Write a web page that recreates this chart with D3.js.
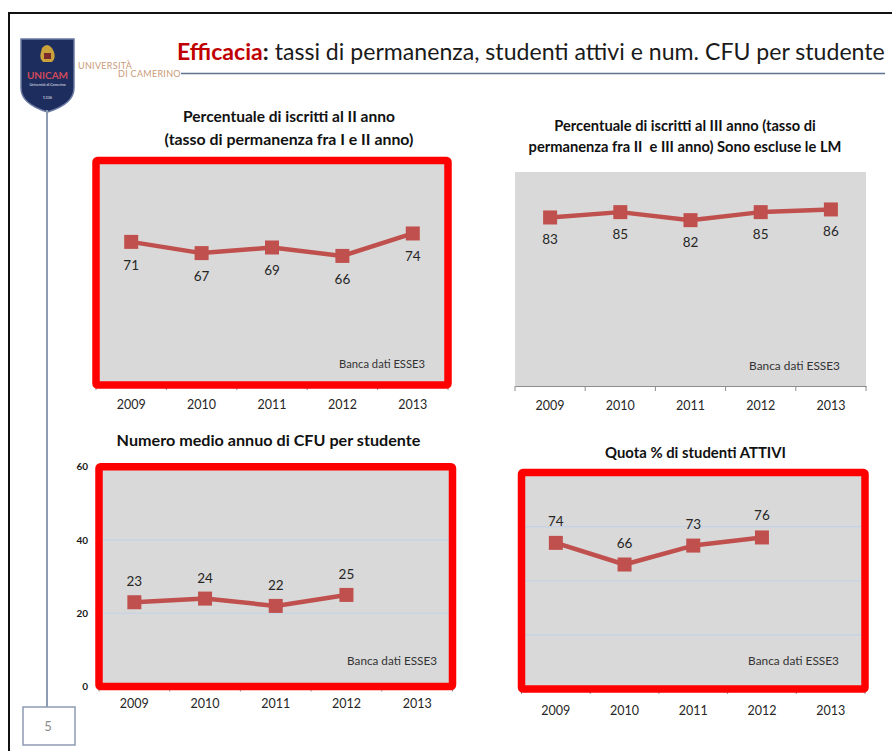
<!DOCTYPE html>
<html>
<head>
<meta charset="utf-8">
<script src="https://cdn.jsdelivr.net/npm/d3@7"></script>
<style>
  html, body { margin: 0; padding: 0; background: #fff; }
  svg { display: block; }
  text { font-family: Lato, "Open Sans", sans-serif; }
</style>
</head>
<body>
<svg id="slide" width="892" height="751"></svg>
<script>
// ---- data ----
const years = ["2009", "2010", "2011", "2012", "2013"];
const secondYearRate = [71, 67, 69, 66, 74];      // % iscritti al II anno
const thirdYearRate = [83, 85, 82, 85, 86];       // % iscritti al III anno
const cfuPerStudent = [23, 24, 22, 25, null];     // CFU medi annui
const activeShare = [74, 66, 73, 76, null];       // % studenti attivi
const cfuTicks = [0, 20, 40, 60];
const sourceNote = "Banca dati ESSE3";

const svg = d3.select("#slide");
const LINE = "#c0504d", FRAME = "#ff0000", PLOT_BG = "#d9d9d9", INK = "#262626";

// squeeze a text horizontally (around its anchor x) so it spans a given width
function fit(sel, width) {
  const w = sel.node().getComputedTextLength();
  const ax = +sel.attr("x");
  const sx = width / w;
  sel.attr("transform", `translate(${ax},0) scale(${sx.toFixed(4)},1) translate(${-ax},0)`);
  return sel;
}

// ---- slide frame ----
svg.append("path").attr("d", "M9,751 V13 H892").attr("fill", "none")
  .attr("stroke", "#111").attr("stroke-width", 2);

// logo: shield
const logo = svg.append("g");
logo.append("path")
  .attr("d", "M21,39 H74 V88 Q74,104 47.5,112 Q21,104 21,88 Z")
  .attr("fill", "#1c2d5e").attr("stroke", "#6a7aa3").attr("stroke-width", 1.5);
logo.append("path")
  .attr("d", "M42,48 Q47,42 52,48 L54,52 Q56,58 52,62 L43,62 Q39,58 41,52 Z")
  .attr("fill", "#c9a23c");
logo.append("rect").attr("x", 44).attr("y", 53).attr("width", 7).attr("height", 6).attr("fill", "#7a2a2a");
logo.append("text").attr("x", 47.5).attr("y", 79).attr("text-anchor", "middle")
  .attr("font-family", "Liberation Serif").attr("font-size", 10).attr("font-weight", "bold")
  .attr("fill", "#d14a5a").text("UNICAM");
logo.append("text").attr("x", 47.5).attr("y", 86).attr("text-anchor", "middle")
  .attr("font-size", 3.6).attr("fill", "#e8e8f0").text("Università di Camerino");
logo.append("text").attr("x", 47.5).attr("y", 99).attr("text-anchor", "middle")
  .attr("font-size", 4).attr("fill", "#e8e8f0").text("1336");
logo.append("text").attr("x", 78).attr("y", 69)
  .attr("font-family", "Liberation Serif").attr("font-size", 9).attr("fill", "#c99a78")
  .attr("letter-spacing", 0.3).text("UNIVERSITÀ");
logo.append("text").attr("x", 118).attr("y", 77)
  .attr("font-family", "Liberation Serif").attr("font-size", 9).attr("fill", "#c99a78")
  .attr("letter-spacing", 0.3).text("DI CAMERINO");

// slide title + rule
const title = svg.append("text").attr("x", 177).attr("y", 60).attr("font-size", 23.5).attr("fill", "#1a1a1a");
title.append("tspan").attr("fill", "#c00000").attr("font-weight", "bold").text("Efficacia");
title.append("tspan").attr("font-weight", "bold").text(":");
title.append("tspan").text(" tassi di permanenza, studenti attivi e num. CFU per studente");
fit(title, 708);
svg.append("line").attr("x1", 181).attr("x2", 885).attr("y1", 73.5).attr("y2", 73.5)
  .attr("stroke", "#5f7391").attr("stroke-width", 1.5);

// page marker
svg.append("line").attr("x1", 47).attr("x2", 47).attr("y1", 110).attr("y2", 707)
  .attr("stroke", "#8d9bb3").attr("stroke-width", 2);
svg.append("rect").attr("x", 23).attr("y", 707).attr("width", 52).attr("height", 38)
  .attr("fill", "#fff").attr("stroke", "#8d9bb3").attr("stroke-width", 1.5);
svg.append("text").attr("x", 48).attr("y", 731).attr("text-anchor", "middle")
  .attr("font-size", 13).attr("fill", "#8a8a8a").text("5");

// ---- panels ----
const panels = [
  { values: secondYearRate, titles: ["Percentuale di iscritti al II anno", "(tasso di permanenza fra I e II anno)"],
    titleX: 289, titleY: [122, 145], titleW: [212, 249],
    x0: 96, x1: 448, y0: 160.5, y1: 385, domain: [20, 100], grid: [], framed: true,
    labelDy: 28, yearY: 409, sourceX: 425, sourceY: 368, sourceW: 86 },
  { values: thirdYearRate, titles: ["Percentuale di iscritti al III anno (tasso di", "permanenza fra II  e III anno) Sono escluse le LM"],
    titleX: 685, titleY: [131, 152], titleW: [262, 313],
    x0: 515, x1: 866, y0: 172, y1: 386, domain: [20, 100], grid: [], framed: false,
    labelDy: 27, yearY: 409.5, sourceX: 840, sourceY: 370, sourceW: 91 },
  { values: cfuPerStudent, titles: ["Numero medio annuo di CFU per studente"],
    titleX: 268.5, titleY: [446], titleW: [304],
    x0: 99, x1: 452.5, y0: 466.7, y1: 686.5, domain: [0, 60], grid: [20, 40], framed: true, yAxis: cfuTicks,
    labelDy: -16, yearY: 708, sourceX: 437, sourceY: 665, sourceW: 90 },
  { values: activeShare, titles: ["Quota % di studenti ATTIVI"],
    titleX: 695.5, titleY: [458], titleW: [181],
    x0: 521.5, x1: 865, y0: 472.5, y1: 689, domain: [20, 100], grid: [40, 60, 80], framed: true,
    labelDy: -17, yearY: 715, sourceX: 839, sourceY: 665, sourceW: 91 }
];

panels.forEach(p => {
  const g = svg.append("g");
  const x = d3.scaleBand().domain(years).range([p.x0, p.x1]);
  const y = d3.scaleLinear().domain(p.domain).range([p.y1, p.y0]);

  // titles
  p.titles.forEach((t, i) => {
    const tt = g.append("text").attr("x", p.titleX).attr("y", p.titleY[i])
      .attr("text-anchor", "middle").attr("font-size", 15).attr("font-weight", "bold")
      .attr("fill", "#111").style("white-space", "pre").text(t);
    fit(tt, p.titleW[i]);
  });

  // plot background
  g.append("rect").attr("x", p.x0).attr("y", p.y0)
    .attr("width", p.x1 - p.x0).attr("height", p.y1 - p.y0).attr("fill", PLOT_BG);

  // gridlines
  g.selectAll(".grid").data(p.grid).join("line")
    .attr("x1", p.x0).attr("x2", p.x1)
    .attr("y1", d => y(d)).attr("y2", d => y(d))
    .attr("stroke", "#c3d2e4").attr("stroke-width", 1.2);

  // x axis with ticks at category boundaries
  const xAxis = g.append("g").attr("transform", `translate(0,${p.y1})`)
    .call(d3.axisBottom(x).tickSize(0).tickPadding(0).tickFormat(""));
  xAxis.select(".domain").attr("stroke", "#8c8c8c").attr("stroke-width", 1.2);
  const bounds = years.map(d => x(d)).concat([p.x1]);
  g.selectAll(".xtick").data(bounds).join("line")
    .attr("x1", d => d).attr("x2", d => d)
    .attr("y1", p.y1).attr("y2", p.y1 + 5)
    .attr("stroke", "#8c8c8c").attr("stroke-width", 1);
  g.selectAll(".year").data(years).join("text")
    .attr("x", d => x(d) + x.bandwidth() / 2).attr("y", p.yearY)
    .attr("text-anchor", "middle").attr("font-size", 12.5).attr("fill", INK).text(d => d);

  // optional y axis
  if (p.yAxis) {
    const yAxis = g.append("g").attr("transform", `translate(${p.x0},0)`)
      .call(d3.axisLeft(y).tickValues(p.yAxis).tickSize(3).tickPadding(8));
    yAxis.select(".domain").attr("stroke", "#8c8c8c");
    yAxis.selectAll("line").attr("stroke", "#8c8c8c");
    yAxis.selectAll("text").attr("font-size", 10).attr("font-weight", "bold")
      .attr("fill", "#1a1a1a").attr("font-family", "Lato, sans-serif");
  }

  // red highlight frame
  if (p.framed) {
    g.append("rect").attr("x", p.x0).attr("y", p.y0)
      .attr("width", p.x1 - p.x0).attr("height", p.y1 - p.y0)
      .attr("fill", "none").attr("stroke", FRAME).attr("stroke-width", 7.5)
      .attr("rx", 1.5);
  }

  // source note
  const src = g.append("text").attr("x", p.sourceX).attr("y", p.sourceY)
    .attr("text-anchor", "end").attr("font-size", 11.5).attr("fill", "#333").text(sourceNote);
  fit(src, p.sourceW);

  // series
  const pts = years.map((yr, i) => ({ yr, v: p.values[i] })).filter(d => d.v != null);
  const line = d3.line().x(d => x(d.yr) + x.bandwidth() / 2).y(d => y(d.v));
  g.append("path").datum(pts).attr("d", line)
    .attr("fill", "none").attr("stroke", LINE).attr("stroke-width", 4.5)
    .attr("stroke-linejoin", "round");
  const ms = 14;
  g.selectAll(".mk").data(pts).join("rect")
    .attr("x", d => x(d.yr) + x.bandwidth() / 2 - ms / 2)
    .attr("y", d => y(d.v) - ms / 2)
    .attr("width", ms).attr("height", ms).attr("fill", LINE);
  g.selectAll(".lbl").data(pts).join("text")
    .attr("x", d => x(d.yr) + x.bandwidth() / 2)
    .attr("y", d => y(d.v) + p.labelDy)
    .attr("text-anchor", "middle").attr("font-size", 13.5).attr("fill", INK)
    .text(d => d.v);
});
</script>
</body>
</html>
